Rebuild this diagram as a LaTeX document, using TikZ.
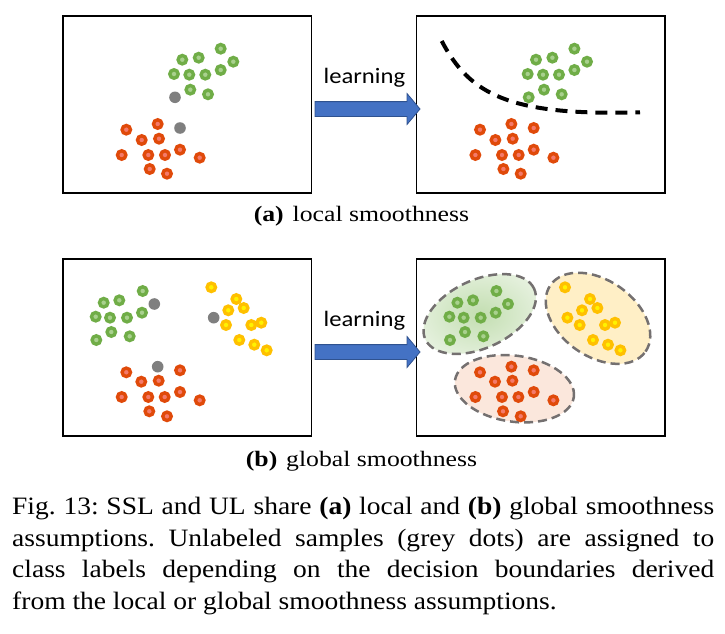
\documentclass[tikz,border=0pt]{standalone}
\usepackage{fontspec}
\setmainfont{Liberation Serif}
\newfontfamily\capfont[FakeStretch=1.1]{Liberation Serif}
\newfontfamily\subcapfont[FakeStretch=1.17]{Liberation Serif}
\newfontfamily\pptfont[FakeStretch=1.12]{Carlito}
\usepackage{xcolor}
\usepackage{tikz}
\usetikzlibrary{shapes.arrows}
\frenchspacing

\definecolor{dotgreen}{HTML}{70AD47}
\definecolor{dotgreenin}{HTML}{A9D18E}
\definecolor{dotred}{HTML}{E04A0A}
\definecolor{dotredin}{HTML}{F47A6A}
\definecolor{dotyellow}{HTML}{FFC000}
\definecolor{dotyellowin}{HTML}{FFF200}
\definecolor{dotgrey}{HTML}{7F7F7F}
\definecolor{areagreen}{HTML}{C3DEB1}
\definecolor{areagreenout}{HTML}{E4F0DC}
\definecolor{areayellow}{HTML}{FFEFC6}
\definecolor{areared}{HTML}{FBE7DC}
\definecolor{areaedge}{HTML}{747070}
\definecolor{arrowblue}{HTML}{4472C4}
\definecolor{arrowedge}{HTML}{2F528F}

\newcommand\greenlocal{157.7/32.7, 119.3/43.7, 135.7/41.7, 170.3/45.7, 111/58, 126.3/58.7, 142.3/58.7, 157.7/54, 127.3/73.7, 145/78.3}
\newcommand\redlocal{94.7/108, 63.3/113.7, 78.7/124, 96/122.7, 58.7/139, 85.3/139, 102/139, 117/133.7, 136.7/141.7, 86.7/153, 104/157.7}
\newcommand\greenglobal{79.7/32, 40.7/43.7, 56.3/41.3, 32.7/57.7, 47/58.7, 64/58.7, 79/53.7, 48.3/73, 66.7/77.3, 33.3/81}
\newcommand\yellowglobal{148.3/28.3, 173.3/40, 165.3/51.3, 180.7/49, 163/66, 188.3/66, 198.3/63.7, 176.3/81, 191.3/85.7, 203.7/91.3}
\newcommand\redglobal{63.3/113.3, 117/111.3, 78.3/122.7, 95.7/121.7, 58.7/138, 85.3/138, 101.7/138, 117/133, 136.7/141.3, 86.3/152.3, 104/157.3}

\begin{document}
\begin{tikzpicture}[x=1pt,y=-1pt,
  frame/.style={draw=black,line width=1.3pt},
  gdot/.style={draw=dotgreen,fill=dotgreenin,line width=3.4pt},
  rdot/.style={draw=dotred,fill=dotredin,line width=3.4pt},
  ydot/.style={draw=dotyellow,fill=dotyellowin,line width=3.4pt},
  udot/.style={fill=dotgrey},
  cluster/.style={draw=areaedge,line width=2.5pt,dash pattern=on 9pt off 5pt},
  learnarrow/.style={single arrow,draw=arrowedge,fill=arrowblue,line width=0.8pt,
    minimum height=105pt,minimum width=30pt,inner sep=7pt,
    single arrow head extend=8pt,single arrow tip angle=100},
  learntext/.style={anchor=base,font=\pptfont\fontsize{22}{26}\selectfont},
  subcap/.style={anchor=base,font=\subcapfont\fontsize{22}{26}\selectfont}]
\useasboundingbox (0,0) rectangle (725,634);

% (a) local smoothness
\begin{scope}[shift={(63,16)}]
\draw[frame] (0,0) rectangle (248.7,177);
\foreach \x/\y in \greenlocal \draw[gdot] (\x,\y) circle[radius=4.2pt];
\foreach \x/\y in \redlocal \draw[rdot] (\x,\y) circle[radius=4.2pt];
\fill[udot] (112,81.3) circle[radius=5.8pt];
\fill[udot] (117,112) circle[radius=5.8pt];
\end{scope}

\begin{scope}[shift={(416.7,16)}]
\draw[frame] (0,0) rectangle (248.3,177);
\draw[line width=4pt,dash pattern=on 12pt off 8pt] (25,25) .. controls (53.3,79) and (93.3,100) .. (223.3,96.3);
\foreach \x/\y in \greenlocal \draw[gdot] (\x,\y) circle[radius=4.2pt];
\draw[gdot] (112,81.3) circle[radius=4.2pt];
\foreach \x/\y in \redlocal \draw[rdot] (\x,\y) circle[radius=4.2pt];
\draw[rdot] (117,112) circle[radius=4.2pt];
\end{scope}

\node[learntext] (learnA) at (364.4,83) {learning};
\node[learnarrow] (arrA) at (364.4,109) {};
\node[subcap] (capA) at (361.5,221.7) {\textbf{(a)}\hspace{0.4em}local smoothness};

% (b) global smoothness
\begin{scope}[shift={(63,259)}]
\draw[frame] (0,0) rectangle (248.7,177);
\foreach \x/\y in \greenglobal \draw[gdot] (\x,\y) circle[radius=4.2pt];
\foreach \x/\y in \yellowglobal \draw[ydot] (\x,\y) circle[radius=4.2pt];
\foreach \x/\y in \redglobal \draw[rdot] (\x,\y) circle[radius=4.2pt];
\fill[udot] (91.3,45) circle[radius=5.8pt];
\fill[udot] (150.7,58.7) circle[radius=5.8pt];
\fill[udot] (94.7,107.7) circle[radius=5.8pt];
\end{scope}

\begin{scope}[shift={(416.7,259)}]
\draw[frame] (0,0) rectangle (248.3,177);
\shade[inner color=areagreen,outer color=areagreenout,shift={(63,55)},rotate=25] (0,0) ellipse[x radius=60pt,y radius=34pt];
\draw[cluster,shift={(63,55)},rotate=25] (0,0) ellipse[x radius=60pt,y radius=34pt];
\draw[cluster,fill=areayellow,shift={(181.3,59.3)},rotate=-35] (0,0) ellipse[x radius=58pt,y radius=38pt];
\draw[cluster,fill=areared,shift={(97.7,129.7)},rotate=-8] (0,0) ellipse[x radius=60pt,y radius=33pt];
\foreach \x/\y in \greenglobal \draw[gdot] (\x,\y) circle[radius=4.2pt];
\draw[gdot] (91.3,45) circle[radius=4.2pt];
\foreach \x/\y in \yellowglobal \draw[ydot] (\x,\y) circle[radius=4.2pt];
\draw[ydot] (150.7,58.7) circle[radius=4.2pt];
\foreach \x/\y in \redglobal \draw[rdot] (\x,\y) circle[radius=4.2pt];
\draw[rdot] (94.7,107.7) circle[radius=4.2pt];
\end{scope}

\node[learntext] (learnB) at (364.4,326) {learning};
\node[learnarrow] (arrB) at (364.4,352) {};
\node[subcap] (capB) at (361.5,466) {\textbf{(b)}\hspace{0.4em}global smoothness};

% caption
\node[anchor=north west,inner sep=0,text width=702pt,align=justify,
  font=\capfont\fontsize{25}{31.7}\selectfont] (figcap) at (12,497)
  {Fig. 13: SSL and UL share \textbf{(a)} local and \textbf{(b)} global smoothness\linebreak
   assumptions. Unlabeled samples (grey dots) are assigned to\linebreak
   class labels depending on the decision boundaries derived\linebreak
   from the local or global smoothness assumptions.};
\end{tikzpicture}
\end{document}
